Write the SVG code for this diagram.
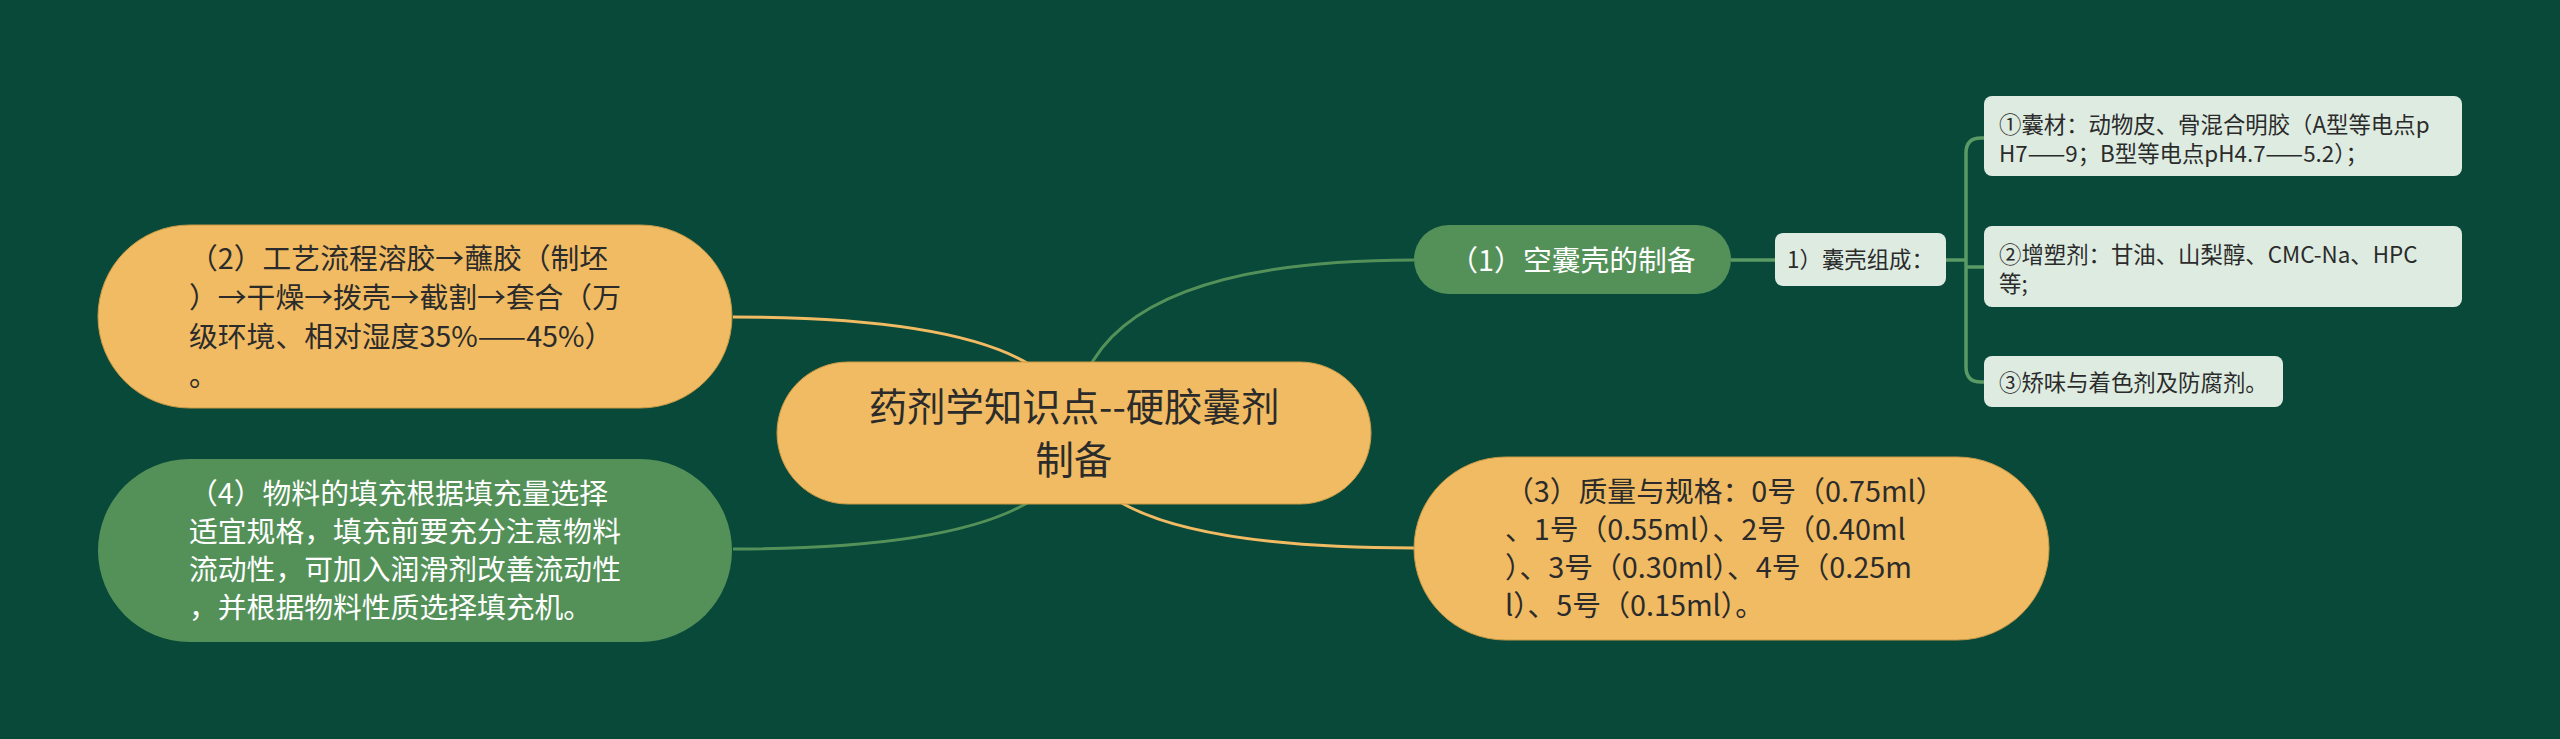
<svg xmlns="http://www.w3.org/2000/svg" width="2560" height="739" viewBox="0 0 2560 739">
<style>
text{font-family:"Noto Sans CJK SC","Noto Sans",sans-serif;}
.yel{fill:#f0bb63;stroke:#c99a45;stroke-width:1;}
.grn{fill:#549159;}
.leaf{fill:#deebe1;}
.dk{fill:#2b2b2b;}
.wt{fill:#ffffff;}
.l1{font-size:28.8px;}
.l2{font-size:22.4px;}
.cy{fill:none;stroke:#f0bb63;stroke-width:3;}
.cg{fill:none;stroke:#549159;stroke-width:3;}
.cs{fill:none;stroke:#5a9a64;stroke-width:3.5;}
</style>
<rect x="0" y="0" width="2560" height="739" fill="#08493a"/>
<g id="connectors">
<path class="cy" d="M1074 433 Q1074 317 733 317"/>
<path class="cg" d="M1074 433 Q1074 549 733 549"/>
<path class="cg" d="M1074 433 Q1074 260 1414 260"/>
<path class="cy" d="M1074 433 Q1074 548 1414 548"/>
<path class="cs" d="M1731 260 H1775"/>
<path class="cs" d="M1946 260 H1966"/>
<path class="cs" d="M1986 138 H1981 Q1966 138 1966 153 V367 Q1966 382 1981 382 H1986"/>
<path class="cs" d="M1966 267 H1986"/>
</g>
<g id="root">
<rect class="yel" x="777" y="362" width="594" height="142" rx="71"/>
<text class="dk" x="1074" y="421" font-size="38.4" text-anchor="middle">药剂学知识点--硬胶囊剂</text>
<text class="dk" x="1074" y="474" font-size="38.4" text-anchor="middle">制备</text>
</g>
<g id="n2">
<rect class="yel" x="98" y="225" width="634" height="183" rx="91.5"/>
<text class="dk l1" x="189"><tspan x="189" y="269">（2）工艺流程溶胶→蘸胶（制坯</tspan><tspan x="189" y="308">）→干燥→拨壳→截割→套合（万</tspan><tspan x="189" y="347">级环境、相对湿度35%——45%）</tspan><tspan x="189" y="386">。</tspan></text>
</g>
<g id="n4">
<rect class="grn" x="98" y="459" width="634" height="183" rx="91.5"/>
<text class="wt l1" x="189"><tspan x="189" y="504">（4）物料的填充根据填充量选择</tspan><tspan x="189" y="542">适宜规格，填充前要充分注意物料</tspan><tspan x="189" y="580">流动性，可加入润滑剂改善流动性</tspan><tspan x="189" y="618">，并根据物料性质选择填充机。</tspan></text>
</g>
<g id="n1">
<rect class="grn" x="1414" y="225" width="317" height="69" rx="34.5"/>
<text class="wt l1" x="1572.5" y="271" text-anchor="middle">（1）空囊壳的制备</text>
</g>
<g id="n3">
<rect class="yel" x="1414" y="457" width="635" height="183" rx="91.5"/>
<text class="dk l1" x="1505"><tspan x="1505" y="502">（3）质量与规格：0号（0.75ml）</tspan><tspan x="1505" y="540">、1号（0.55ml）、2号（0.40ml</tspan><tspan x="1505" y="578">）、3号（0.30ml）、4号（0.25m</tspan><tspan x="1505" y="616">l）、5号（0.15ml）。</tspan></text>
</g>
<g id="n1a">
<rect class="leaf" x="1775" y="233" width="171" height="53" rx="8"/>
<text class="dk l2" x="1860.5" y="267.5" text-anchor="middle">1）囊壳组成：</text>
</g>
<g id="leaf1">
<rect class="leaf" x="1984" y="96" width="478" height="80" rx="8"/>
<text class="dk l2" x="1999"><tspan x="1999" y="133">①囊材：动物皮、骨混合明胶（A型等电点p</tspan><tspan x="1999" y="162">H7——9；B型等电点pH4.7——5.2）；</tspan></text>
</g>
<g id="leaf2">
<rect class="leaf" x="1984" y="226" width="478" height="81" rx="8"/>
<text class="dk l2" x="1999"><tspan x="1999" y="263">②增塑剂：甘油、山梨醇、CMC-Na、HPC</tspan><tspan x="1999" y="292">等;</tspan></text>
</g>
<g id="leaf3">
<rect class="leaf" x="1984" y="356" width="299" height="51" rx="8"/>
<text class="dk l2" x="1999" y="391">③矫味与着色剂及防腐剂。</text>
</g>
</svg>
